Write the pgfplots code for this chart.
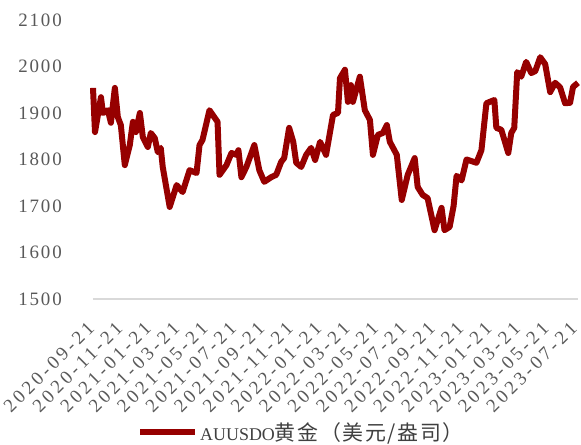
\documentclass[border=0pt]{standalone}
\usepackage{fontspec}
\setmainfont{Liberation Serif}
\newfontfamily\tickfont{Liberation Serif}[LetterSpace=10]
\newfontfamily\datefont{Liberation Serif}[LetterSpace=18]
\newfontfamily\cjk{Noto Sans CJK SC}[LetterSpace=8]
\usepackage{pgfplots}
\pgfplotsset{compat=1.18}

\definecolor{goldred}{RGB}{150,0,0}
\definecolor{ticktext}{RGB}{89,89,89}
\definecolor{baseline}{RGB}{217,217,217}
\definecolor{legtext}{RGB}{64,64,64}

\begin{document}
\begin{tikzpicture}
  % fixes the page to the reference frame
  \path[use as bounding box] (-93bp,-146bp) rectangle (488bp,299bp);
  \begin{axis}[
      scale only axis,
      width=485bp, height=279bp,
      xmin=0, xmax=34.15,
      ymin=1500, ymax=2100,
      ytick={1500,1600,...,2100},
      xtick={0,2,...,34},
      xticklabels={2020-09-21,2020-11-21,2021-01-21,2021-03-21,2021-05-21,2021-07-21,
        2021-09-21,2021-11-21,2022-01-21,2022-03-21,2022-05-21,2022-07-21,
        2022-09-21,2022-11-21,2023-01-21,2023-03-21,2023-05-21,2023-07-21},
      axis lines*=left,
      y axis line style={draw=none},
      x axis line style={draw=baseline, line width=2bp},
      tick style={draw=none},
      major tick length=0pt,
      /pgf/number format/1000 sep={},
      /pgf/number format/assume math mode=true,
      yticklabel style={font=\tickfont\fontsize{19}{22}\selectfont, text=ticktext,
        anchor=east, inner sep=0pt, xshift=-31bp},
      xticklabel style={font=\datefont\fontsize{19}{22}\selectfont, text=ticktext,
        anchor=east, inner sep=0pt, yshift=-26bp, xshift=-2bp, rotate=45},
      clip=false,
      legend style={draw=none, fill=none, at={(axis description cs:0.43,-0.477)},
        anchor=center, font=\fontsize{18}{22}\selectfont, text=legtext,
        inner sep=0pt},
      legend cell align=left,
      legend image code/.code={\draw[#1, line width=6bp] (0bp,0bp) -- (55bp,0bp);},
    ]
    \addplot[goldred, line width=6bp, line join=round] coordinates {
      (0.00,1954) (0.14,1859) (0.56,1934) (0.70,1900) (1.05,1906) (1.26,1879)
      (1.54,1954) (1.75,1891) (1.96,1874) (2.24,1788) (2.59,1831) (2.81,1881)
      (3.02,1859) (3.30,1900) (3.51,1848) (3.86,1827) (4.07,1857) (4.35,1846)
      (4.56,1816) (4.77,1825) (4.91,1784) (5.40,1698) (5.89,1745) (6.31,1730)
      (6.80,1777) (7.29,1771) (7.50,1831) (7.71,1842) (8.20,1906) (8.77,1881)
      (8.91,1767) (9.40,1788) (9.75,1814) (10.10,1810) (10.24,1820) (10.45,1762)
      (10.80,1784) (11.36,1831) (11.71,1777) (12.06,1752) (12.55,1762) (12.90,1767)
      (13.25,1795) (13.46,1803) (13.81,1868) (14.10,1838) (14.31,1793) (14.66,1784)
      (15.01,1810) (15.36,1825) (15.64,1799) (15.99,1838) (16.41,1810) (16.90,1896)
      (17.25,1900) (17.39,1975) (17.74,1993) (17.95,1924) (18.16,1960) (18.30,1924)
      (18.79,1978) (19.14,1906) (19.50,1885) (19.71,1810) (20.06,1853) (20.41,1857)
      (20.69,1874) (20.90,1838) (21.39,1810) (21.74,1713) (22.16,1767) (22.65,1803)
      (22.86,1741) (23.21,1724) (23.56,1717) (24.05,1648) (24.54,1696) (24.75,1648)
      (25.11,1655) (25.39,1700) (25.60,1765) (25.95,1755) (26.30,1800) (27.00,1793)
      (27.35,1820) (27.70,1921) (28.26,1928) (28.40,1868) (28.75,1864) (29.24,1814)
      (29.45,1857) (29.66,1868) (29.87,1988) (30.15,1978) (30.50,2010) (30.86,1986)
      (31.14,1990) (31.49,2020) (31.84,2005) (32.19,1945) (32.54,1965) (32.89,1955)
      (33.24,1921) (33.59,1922) (33.80,1956) (34.15,1965)
    };
    \addlegendentry{AUUSDO{\cjk\fontsize{21}{22}\selectfont 黄金（美元/盎司）}}
  \end{axis}
\end{tikzpicture}
\end{document}
